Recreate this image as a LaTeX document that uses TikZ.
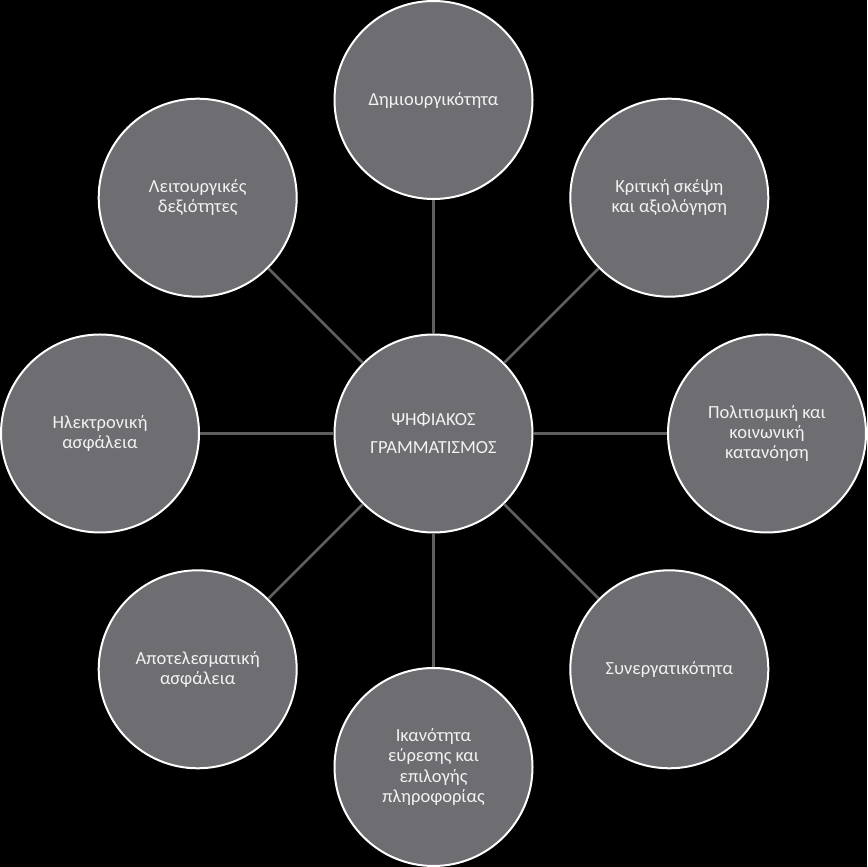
\documentclass[tikz,border=0pt]{standalone}
\usepackage{fontspec}
\setmainfont{Carlito}
\usepackage{xcolor}
\usetikzlibrary{positioning}

\definecolor{bubblegray}{RGB}{110,110,114}
\definecolor{linkgray}{RGB}{95,95,95}
\definecolor{labelwhite}{RGB}{242,242,242}

\tikzset{
  bubble/.style={circle, draw=white, line width=2pt, fill=bubblegray, minimum size=198pt,
    inner sep=0pt, align=center, text=labelwhite, font=\fontsize{18.5}{20.3}\selectfont},
  hub/.style={bubble, font=\fontsize{18.5}{27.7}\selectfont},
  link/.style={draw=linkgray, line width=2.6pt}
}

\begin{document}
\begin{tikzpicture}[x=1pt, y=1pt, node distance=333.5pt, on grid]
  \fill[black] (0,0) rectangle (867,867);
  \useasboundingbox (0,0) rectangle (867,867);

  \node[hub] (literacy) at (433.5,433.5) {ΨΗΦΙΑΚΟΣ\\ΓΡΑΜΜΑΤΙΣΜΟΣ};
  \node[bubble] (creativity) [above=of literacy] {Δημιουργικότητα};
  \node[bubble] (critical) [above right=235.8pt and 235.8pt of literacy] {Κριτική σκέψη\\και αξιολόγηση};
  \node[bubble] (cultural) [right=of literacy] {Πολιτισμική και\\κοινωνική\\κατανόηση};
  \node[bubble] (collab) [below right=235.8pt and 235.8pt of literacy] {Συνεργατικότητα};
  \node[bubble] (retrieval) [below=of literacy] {Ικανότητα\\εύρεσης και\\επιλογής\\πληροφορίας};
  \node[bubble] (efficiency) [below left=235.8pt and 235.8pt of literacy] {Αποτελεσματική\\ασφάλεια};
  \node[bubble] (esafety) [left=of literacy] {Ηλεκτρονική\\ασφάλεια};
  \node[bubble] (functional) [above left=235.8pt and 235.8pt of literacy] {Λειτουργικές\\δεξιότητες};

  \path[link]
    (literacy) edge (creativity)
    (literacy) edge (critical)
    (literacy) edge (cultural)
    (literacy) edge (collab)
    (literacy) edge (retrieval)
    (literacy) edge (efficiency)
    (literacy) edge (esafety)
    (literacy) edge (functional);
\end{tikzpicture}
\end{document}
